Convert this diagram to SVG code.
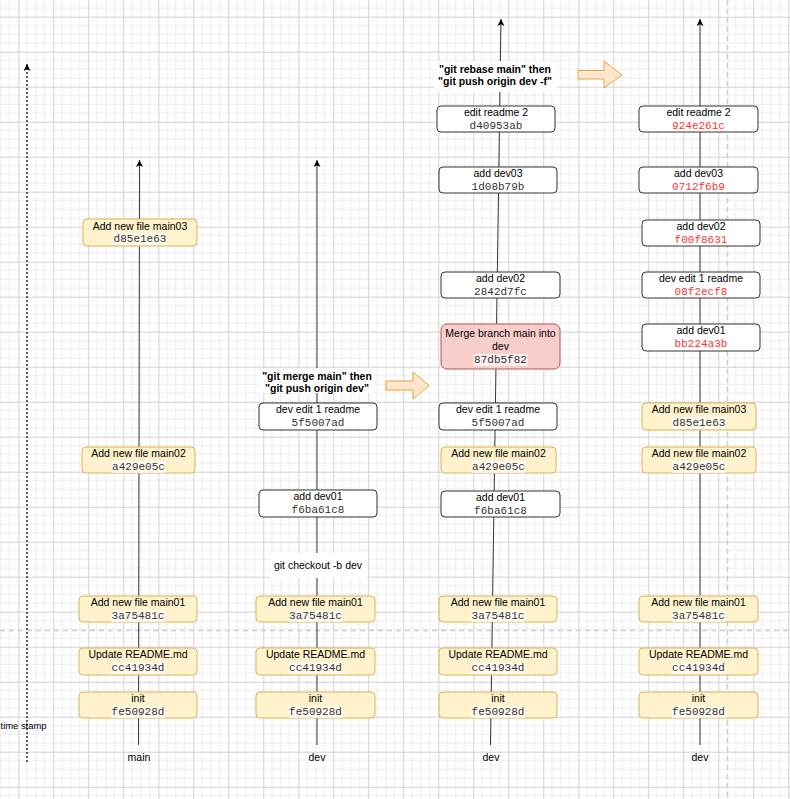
<svg xmlns="http://www.w3.org/2000/svg" width="790" height="799" viewBox="0 0 790 799">
<style>
.t{font-family:"Liberation Sans",Arial,sans-serif;font-size:10.5px;fill:#000;text-anchor:middle}
.b{font-weight:bold}
.h{font-family:"Liberation Mono","DejaVu Sans Mono",monospace;font-size:11px;fill:#333;text-anchor:middle}
.r{fill:#ff3333}
.y{fill:#fff2cc;stroke:#d6b656;stroke-width:1}
.w{fill:#ffffff;stroke:#333;stroke-width:1}
.m{fill:#f8cecc;stroke:#b85450;stroke-width:1}
.hb{fill:#ffffff;opacity:0.7}
.e{stroke:#333;stroke-width:1;fill:none;marker-end:url(#ah)}
.ba{fill:#ffe6cc;stroke:#e0a83a;stroke-width:1}
.pb{stroke:#cfcfcf;stroke-width:1.5;stroke-dasharray:5 4;fill:none}
</style>
<defs>
<pattern id="grid" patternUnits="userSpaceOnUse" x="18.3" y="16.7" width="35" height="35">
<path d="M8.75 0V35M17.5 0V35M26.25 0V35M0 8.75H35M0 17.5H35M0 26.25H35" stroke="#ececec" stroke-width="1" fill="none"/>
<path d="M0.5 0V35M0 0.5H35" stroke="#d2d2d2" stroke-width="1" fill="none"/>
</pattern>
<marker id="ah" markerUnits="userSpaceOnUse" markerWidth="9" markerHeight="9" refX="7" refY="3.5" orient="auto">
<path d="M0,0 L7,3.5 L0,7 L1.75,3.5 z" fill="#000"/>
</marker>
</defs>
<rect x="0" y="0" width="790" height="799" fill="#ffffff"/>
<rect x="0" y="0" width="790" height="799" fill="url(#grid)"/>
<path class="pb" d="M0 630.5H790"/>
<path class="pb" d="M727.5 0V799"/>

<g id="connectors">
<path d="M27 762V64" stroke="#333" stroke-width="1.5" stroke-dasharray="2 2" fill="none" marker-end="url(#ah)"/>
<path class="e" d="M138.5 745L139.5 160"/>
<path class="e" d="M317 745V160"/>
<path class="e" d="M490.5 745L501 19"/>
<path class="e" d="M700 745V19"/>
</g>

<g id="timestamp"><text class="t" x="23.5" y="729" style="font-size:9.4px">time stamp</text></g>
<g id="lbl-main"><text class="t" x="139" y="761">main</text></g>
<g id="lbl-dev1"><text class="t" x="317" y="761">dev</text></g>
<g id="lbl-dev2"><text class="t" x="491" y="761">dev</text></g>
<g id="lbl-dev3"><text class="t" x="700" y="761">dev</text></g>

<!-- column 1: main -->
<g id="c1-main03"><rect class="y" x="83" y="219" width="114" height="27" rx="4"/><text class="t" x="140" y="229.5">Add new file main03</text><rect class="hb" x="113" y="233" width="54" height="12"/><text class="h" x="140" y="242">d85e1e63</text></g>
<g id="c1-main02"><rect class="y" x="82" y="447" width="113" height="26" rx="4"/><text class="t" x="138.5" y="457">Add new file main02</text><rect class="hb" x="111.5" y="461" width="54" height="12"/><text class="h" x="138.5" y="470">a429e05c</text></g>
<g id="c1-main01"><rect class="y" x="79" y="596" width="118" height="26" rx="4"/><text class="t" x="138" y="606">Add new file main01</text><rect class="hb" x="111" y="610" width="54" height="12"/><text class="h" x="138" y="619">3a75481c</text></g>
<g id="c1-readme"><rect class="y" x="79" y="648" width="118" height="27" rx="4"/><text class="t" x="138" y="658">Update README.md</text><rect class="hb" x="111" y="662" width="54" height="12"/><text class="h" x="138" y="671">cc41934d</text></g>
<g id="c1-init"><rect class="y" x="79" y="692" width="118" height="26" rx="4"/><text class="t" x="138" y="702">init</text><rect class="hb" x="111" y="706" width="54" height="12"/><text class="h" x="138" y="715">fe50928d</text></g>

<!-- column 2: dev -->
<g id="c2-label"><rect x="260" y="368" width="114" height="25" fill="#ffffff"/><text class="t b" x="317" y="380">"git merge main" then</text><text class="t b" x="317" y="391.5">"git push origin dev"</text></g>
<g id="c2-devedit1"><rect class="w" x="259" y="403" width="118" height="27" rx="4"/><text class="t" x="318" y="413">dev edit 1 readme</text><text class="h" x="318" y="426">5f5007ad</text></g>
<g id="c2-dev01"><rect class="w" x="259" y="490" width="118" height="27" rx="4"/><text class="t" x="318" y="500">add dev01</text><text class="h" x="318" y="513">f6ba61c8</text></g>
<g id="c2-checkout"><rect x="270" y="553" width="97" height="25" fill="#ffffff"/><text class="t" x="318" y="569">git checkout -b dev</text></g>
<g id="c2-main01"><rect class="y" x="256" y="596" width="119" height="26" rx="4"/><text class="t" x="315.5" y="606">Add new file main01</text><rect class="hb" x="288.5" y="610" width="54" height="12"/><text class="h" x="315.5" y="619">3a75481c</text></g>
<g id="c2-readme"><rect class="y" x="256" y="648" width="119" height="27" rx="4"/><text class="t" x="315.5" y="658">Update README.md</text><rect class="hb" x="288.5" y="662" width="54" height="12"/><text class="h" x="315.5" y="671">cc41934d</text></g>
<g id="c2-init"><rect class="y" x="256" y="692" width="119" height="26" rx="4"/><text class="t" x="315.5" y="702">init</text><rect class="hb" x="288.5" y="706" width="54" height="12"/><text class="h" x="315.5" y="715">fe50928d</text></g>

<g id="arrow1"><path class="ba" d="M386 381H413V372L429 385.5L413 399V390H386Z"/></g>

<!-- column 3: dev after merge -->
<g id="c3-label"><rect x="434" y="61" width="123" height="31" fill="#ffffff"/><text class="t b" x="495" y="73">"git rebase main" then</text><text class="t b" x="495" y="85">"git push origin dev -f"</text></g>
<g id="c3-edit2"><rect class="w" x="437" y="106" width="118" height="26" rx="4"/><text class="t" x="496" y="116">edit readme 2</text><text class="h" x="496" y="129">d40953ab</text></g>
<g id="c3-dev03"><rect class="w" x="439" y="167" width="118" height="26" rx="4"/><text class="t" x="498" y="177">add dev03</text><text class="h" x="498" y="190">1d08b79b</text></g>
<g id="c3-dev02"><rect class="w" x="441" y="272" width="119" height="26" rx="4"/><text class="t" x="500.5" y="282">add dev02</text><text class="h" x="500.5" y="295">2842d7fc</text></g>
<g id="c3-merge"><rect class="m" x="441" y="324" width="119" height="45" rx="6"/><text class="t" x="500.5" y="337">Merge branch main into</text><text class="t" x="500.5" y="349.5">dev</text><rect class="hb" x="473.5" y="354" width="54" height="12"/><text class="h" x="500.5" y="363">87db5f82</text></g>
<g id="c3-devedit1"><rect class="w" x="439" y="403" width="118" height="27" rx="4"/><text class="t" x="498" y="413">dev edit 1 readme</text><text class="h" x="498" y="426">5f5007ad</text></g>
<g id="c3-main02"><rect class="y" x="441" y="447" width="115" height="26" rx="4"/><text class="t" x="498.5" y="457">Add new file main02</text><rect class="hb" x="471.5" y="461" width="54" height="12"/><text class="h" x="498.5" y="470">a429e05c</text></g>
<g id="c3-dev01"><rect class="w" x="441" y="491" width="119" height="26" rx="4"/><text class="t" x="500.5" y="501">add dev01</text><text class="h" x="500.5" y="514">f6ba61c8</text></g>
<g id="c3-main01"><rect class="y" x="439" y="596" width="118" height="26" rx="4"/><text class="t" x="498" y="606">Add new file main01</text><rect class="hb" x="471" y="610" width="54" height="12"/><text class="h" x="498" y="619">3a75481c</text></g>
<g id="c3-readme"><rect class="y" x="439" y="648" width="118" height="27" rx="4"/><text class="t" x="498" y="658">Update README.md</text><rect class="hb" x="471" y="662" width="54" height="12"/><text class="h" x="498" y="671">cc41934d</text></g>
<g id="c3-init"><rect class="y" x="439" y="692" width="118" height="26" rx="4"/><text class="t" x="498" y="702">init</text><rect class="hb" x="471" y="706" width="54" height="12"/><text class="h" x="498" y="715">fe50928d</text></g>

<g id="arrow2"><path class="ba" d="M578 70.5H604V61L622 75L604 88V79H578Z"/></g>

<!-- column 4: dev after rebase -->
<g id="c4-edit2"><rect class="w" x="639" y="106" width="119" height="26" rx="4"/><text class="t" x="698.5" y="116">edit readme 2</text><text class="h r" x="698.5" y="129">924e261c</text></g>
<g id="c4-dev03"><rect class="w" x="639" y="167" width="119" height="26" rx="4"/><text class="t" x="698.5" y="177">add dev03</text><text class="h r" x="698.5" y="190">0712f6b9</text></g>
<g id="c4-dev02"><rect class="w" x="642" y="220" width="118" height="26" rx="4"/><text class="t" x="701" y="230">add dev02</text><text class="h r" x="701" y="243">f00f8631</text></g>
<g id="c4-devedit1"><rect class="w" x="642" y="272" width="118" height="26" rx="4"/><text class="t" x="701" y="282">dev edit 1 readme</text><text class="h r" x="701" y="295">08f2ecf8</text></g>
<g id="c4-dev01"><rect class="w" x="642" y="324" width="118" height="27" rx="4"/><text class="t" x="701" y="334">add dev01</text><text class="h r" x="701" y="347">bb224a3b</text></g>
<g id="c4-main03"><rect class="y" x="642" y="403" width="114" height="27" rx="4"/><text class="t" x="699" y="413">Add new file main03</text><rect class="hb" x="672" y="417" width="54" height="12"/><text class="h" x="699" y="426">d85e1e63</text></g>
<g id="c4-main02"><rect class="y" x="642" y="447" width="114" height="26" rx="4"/><text class="t" x="699" y="457">Add new file main02</text><rect class="hb" x="672" y="461" width="54" height="12"/><text class="h" x="699" y="470">a429e05c</text></g>
<g id="c4-main01"><rect class="y" x="639" y="596" width="119" height="26" rx="4"/><text class="t" x="698.5" y="606">Add new file main01</text><rect class="hb" x="671.5" y="610" width="54" height="12"/><text class="h" x="698.5" y="619">3a75481c</text></g>
<g id="c4-readme"><rect class="y" x="639" y="648" width="119" height="27" rx="4"/><text class="t" x="698.5" y="658">Update README.md</text><rect class="hb" x="671.5" y="662" width="54" height="12"/><text class="h" x="698.5" y="671">cc41934d</text></g>
<g id="c4-init"><rect class="y" x="639" y="692" width="119" height="26" rx="4"/><text class="t" x="698.5" y="702">init</text><rect class="hb" x="671.5" y="706" width="54" height="12"/><text class="h" x="698.5" y="715">fe50928d</text></g>
</svg>
